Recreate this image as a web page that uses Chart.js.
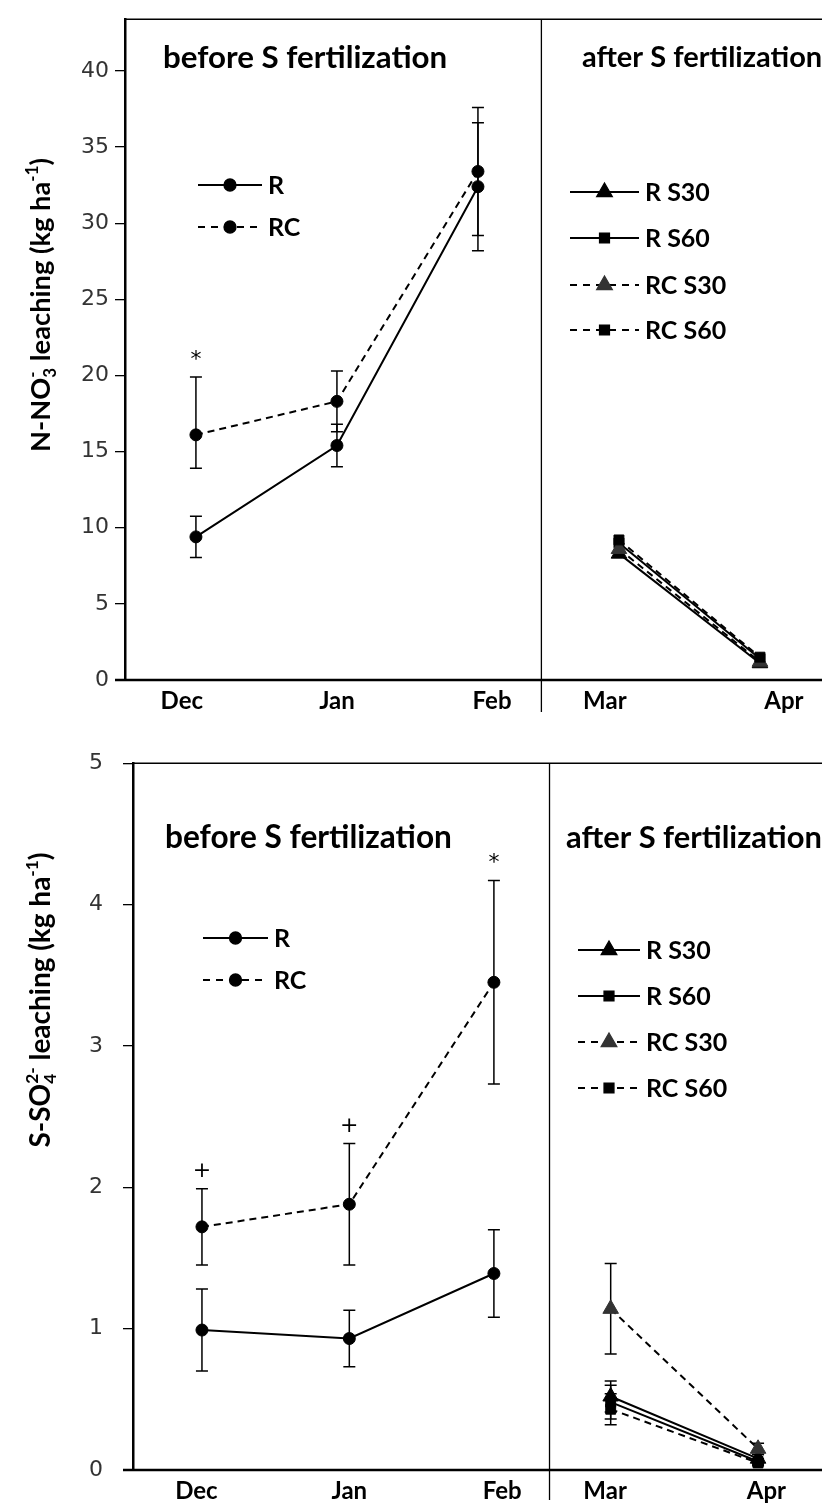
<!DOCTYPE html>
<html>
<head>
<meta charset="utf-8">
<script src="https://cdn.jsdelivr.net/npm/chart.js@4.4.1/dist/chart.umd.min.js"></script>
<style>
  html, body { margin: 0; padding: 0; background: #fff; }
  #wrap { position: relative; width: 832px; height: 1504px; }
  canvas { position: absolute; left: 0; }
  #c1 { top: 0; }
  #c2 { top: 730px; }
</style>
</head>
<body>
<div id="wrap">
  <canvas id="c1" width="832" height="730"></canvas>
  <canvas id="c2" width="832" height="774"></canvas>
</div>
<script>
/* ---- data ---- */
const months = ['Dec', 'Jan', 'Feb', 'Mar', 'Apr'];

// N-NO3- leaching (kg ha-1); error bars given as [below, above]
const nR = [9.4, 15.4, 32.4];
const nRErr = [[1.35, 1.35], [1.4, 1.4], [4.2, 4.2]];
const nRC = [16.1, 18.3, 33.4];
const nRCErr = [[2.2, 3.8], [2.0, 2.0], [4.2, 4.2]];
const nRS30 = [8.3, 1.1];
const nRS60 = [9.0, 1.4];
const nRCS30 = [8.6, 1.2];
const nRCS60 = [9.2, 1.5];
const nTicks = [0, 5, 10, 15, 20, 25, 30, 35, 40];

// S-SO4 2- leaching (kg ha-1)
const sR = [0.99, 0.93, 1.39];
const sRErr = [0.29, 0.20, 0.31];
const sRC = [1.72, 1.88, 3.45];
const sRCErr = [0.27, 0.43, 0.72];
const sRS30 = [0.52, 0.08];
const sRS30Err = [0.11, 0.03];
const sRS60 = [0.48, 0.06];
const sRS60Err = [0.12, 0.02];
const sRCS30 = [1.14, 0.15];
const sRCS30Err = [0.32, 0.04];
const sRCS60 = [0.43, 0.05];
const sRCS60Err = [0.11, 0.02];
const sTicks = [0, 1, 2, 3, 4, 5];

// month positions along x (months are not quite evenly spaced in the figure)
const nPos = [1, 2, 3, 4, 5];
const nLabelPos = [0.9, 2.0, 3.1, 3.9, 5.17];
const sPos = [1, 2.06, 3.1, 3.94, 5];
const sLabelPos = [0.96, 2.06, 3.16, 3.9, 5.06];

// significance marks: [series, month index, symbol]
const nMarks = [['RC', 0, '*']];
const sMarks = [['RC', 0, '+'], ['RC', 1, '+'], ['RC', 2, '*']];

/* ---- helpers ---- */
const FONT = 'Lato';
const pts = (pos, vals) => vals.map((v, i) => ({ x: pos[i], y: v }));
const errRange = e => Array.isArray(e) ? e : [e, e];

function fitFont(ctx, text, width, weight) {
  ctx.font = `${weight} 20px ${FONT}`;
  const w = ctx.measureText(text).width;
  return `${weight} ${(20 * width / w).toFixed(1)}px ${FONT}`;
}

function drawMarker(ctx, style, color, r, x, y) {
  ctx.save();
  ctx.fillStyle = color;
  ctx.strokeStyle = color;
  Chart.helpers.drawPoint(ctx, { pointStyle: style, radius: r, rotation: 0, borderWidth: 1 }, x, y);
  ctx.restore();
}

// rotated y title with sub/superscripts, parts: strings or {sub, sup}
function drawYTitle(ctx, parts, cx, cy, length) {
  const plain = parts.map(p => typeof p === 'string' ? p : (p.sub || p.sup)).join('');
  let size = 20;
  ctx.font = `bold ${size}px ${FONT}`;
  size = size * length / ctx.measureText(plain).width;
  const big = `bold ${size}px ${FONT}`;
  const small = `bold ${size * 0.62}px ${FONT}`;
  const widthOf = p => {
    if (typeof p === 'string') { ctx.font = big; return ctx.measureText(p).width; }
    ctx.font = small;
    return Math.max(p.sub ? ctx.measureText(p.sub).width : 0, p.sup ? ctx.measureText(p.sup).width : 0);
  };
  const total = parts.reduce((s, p) => s + widthOf(p), 0);
  ctx.save();
  ctx.translate(cx, cy);
  ctx.rotate(-Math.PI / 2);
  ctx.fillStyle = '#000';
  ctx.textBaseline = 'alphabetic';
  ctx.textAlign = 'left';
  let x = -total / 2;
  const base = size * 0.35;
  parts.forEach(p => {
    const w = widthOf(p);
    if (typeof p === 'string') {
      ctx.font = big; ctx.fillText(p, x, base);
    } else {
      ctx.font = small;
      if (p.sub) ctx.fillText(p.sub, x, base + size * 0.22);
      if (p.sup) ctx.fillText(p.sup, x, base - size * 0.42);
    }
    x += w;
  });
  ctx.restore();
}

const decor = {
  id: 'decor',
  beforeDatasetsDraw(chart) {
    const { ctx, scales: { x, y } } = chart;
    ctx.save();
    ctx.strokeStyle = '#000';
    ctx.lineWidth = 1.5;
    chart.data.datasets.forEach(ds => {
      if (!ds.errs) return;
      ds.data.forEach((p, i) => {
        if (!ds.errs[i]) return;
        const [lo, hi] = errRange(ds.errs[i]);
        const px = x.getPixelForValue(p.x);
        const y1 = y.getPixelForValue(p.y + hi);
        const y2 = y.getPixelForValue(Math.max(0, p.y - lo));
        ctx.beginPath();
        ctx.moveTo(px, y1); ctx.lineTo(px, y2);
        ctx.moveTo(px - 6, y1); ctx.lineTo(px + 6, y1);
        ctx.moveTo(px - 6, y2); ctx.lineTo(px + 6, y2);
        ctx.stroke();
      });
    });
    ctx.restore();
  },
  afterDraw(chart, args, o) {
    const { ctx, chartArea: a, scales: { x, y } } = chart;
    ctx.save();
    ctx.strokeStyle = '#000';
    ctx.fillStyle = '#000';

    // frame top, x axis, divider
    ctx.lineWidth = 1.5;
    ctx.beginPath();
    ctx.moveTo(a.left, a.top); ctx.lineTo(a.right, a.top);
    ctx.stroke();
    ctx.lineWidth = 2.5;
    ctx.beginPath();
    ctx.moveTo(a.left - 10, a.bottom); ctx.lineTo(a.right, a.bottom);
    ctx.stroke();
    const dx = x.getPixelForValue(o.divider);
    ctx.lineWidth = 1.3;
    ctx.beginPath();
    ctx.moveTo(dx, a.top); ctx.lineTo(dx, a.bottom + o.dividerTail);
    ctx.stroke();

    // month labels
    ctx.font = `bold 24px ${FONT}`;
    ctx.textAlign = 'center';
    ctx.textBaseline = 'middle';
    months.forEach((m, i) => ctx.fillText(m, x.getPixelForValue(o.labelPos[i]), a.bottom + 21));

    // section titles
    ctx.textAlign = 'left';
    o.titles.forEach(t => {
      ctx.font = fitFont(ctx, t.text, t.w, 'bold');
      ctx.fillText(t.text, t.x, t.y);
    });

    // legends
    o.legend.forEach(l => {
      ctx.save();
      ctx.lineWidth = 2;
      ctx.setLineDash(l.dash ? [7, 6] : []);
      ctx.beginPath();
      ctx.moveTo(l.x1, l.y); ctx.lineTo(l.x2, l.y);
      ctx.stroke();
      ctx.restore();
      drawMarker(ctx, l.style, l.color, l.r, (l.x1 + l.x2) / 2, l.y);
      ctx.font = `bold 25px ${FONT}`;
      ctx.fillText(l.text, l.x2 + 6, l.y + 1);
    });

    // significance marks above the upper error cap
    ctx.font = '22px DejaVu Sans';
    ctx.textAlign = 'center';
    o.marks.forEach(([lab, i, sym]) => {
      const ds = chart.data.datasets.find(d => d.label === lab);
      const p = ds.data[i];
      const hi = errRange(ds.errs[i])[1];
      ctx.fillText(sym, x.getPixelForValue(p.x), y.getPixelForValue(p.y + hi) - 17);
    });

    drawYTitle(ctx, o.yTitle, o.yTitleX, o.yTitleY, o.yTitleLen);
    ctx.restore();
  }
};

function lineDs(label, data, errs, style, r, dashed, color) {
  return {
    label, data, errs,
    borderColor: '#000',
    borderWidth: 2,
    borderDash: dashed ? [7, 5] : [],
    pointStyle: style,
    pointRadius: r,
    pointBackgroundColor: color || '#000',
    pointBorderColor: color || '#000',
    pointBorderWidth: 1,
    tension: 0,
    fill: false
  };
}

function makeChart(id, cfg) {
  return new Chart(document.getElementById(id), {
    type: 'line',
    data: { datasets: cfg.datasets },
    options: {
      responsive: false,
      animation: false,
      events: [],
      layout: { padding: { top: cfg.top, bottom: cfg.bottom, left: 0, right: 0 } },
      plugins: { legend: { display: false }, tooltip: { enabled: false }, decor: cfg.decor },
      scales: {
        x: { type: 'linear', display: false, min: cfg.xMin, max: cfg.xMax },
        y: {
          min: 0, max: cfg.yMax,
          afterBuildTicks: s => { s.ticks = cfg.ticks.map(v => ({ value: v })); },
          afterFit: s => { s.width = cfg.axisX; },
          border: { display: true, color: '#000', width: 2.5 },
          grid: { drawOnChartArea: false, drawTicks: true, tickLength: 10, color: '#000', lineWidth: 1.3 },
          ticks: {
            padding: cfg.tickPad,
            color: '#333',
            font: { family: 'DejaVu Sans', size: 22 }
          }
        }
      }
    },
    plugins: [decor]
  });
}

/* ---- chart 1: N-NO3 ---- */
const tri = 'triangle', sq = 'rect', dot = 'circle';
makeChart('c1', {
  top: 15, bottom: 50, axisX: 125, tickPad: 6,
  xMin: 0.497, xMax: 5.44, yMax: 43.4, ticks: nTicks,
  datasets: [
    lineDs('R', pts(nPos, nR), nRErr, dot, 6, false),
    lineDs('RC', pts(nPos, nRC), nRCErr, dot, 6, true),
    lineDs('RC S60', pts(nPos.slice(3), nRCS60), null, sq, 7, true),
    lineDs('RC S30', pts(nPos.slice(3), nRCS30), null, tri, 9, true, '#333'),
    lineDs('R S60', pts(nPos.slice(3), nRS60), null, sq, 7, false),
    lineDs('R S30', pts(nPos.slice(3), nRS30), null, tri, 9, false)
  ],
  decor: {
    divider: 3.45, dividerTail: 32, labelPos: nLabelPos, marks: nMarks,
    titles: [
      { text: 'before S fertilization', x: 163, y: 58, w: 284 },
      { text: 'after S fertilization', x: 582, y: 58, w: 240 }
    ],
    legend: [
      { text: 'R', x1: 198, x2: 262, y: 185, style: dot, r: 6 },
      { text: 'RC', x1: 198, x2: 262, y: 227, style: dot, r: 6, dash: true },
      { text: 'R S30', x1: 570, x2: 639, y: 192, style: tri, r: 9 },
      { text: 'R S60', x1: 570, x2: 639, y: 238, style: sq, r: 7 },
      { text: 'RC S30', x1: 570, x2: 639, y: 285, style: tri, r: 9, dash: true, color: '#333' },
      { text: 'RC S60', x1: 570, x2: 639, y: 330, style: sq, r: 7, dash: true }
    ].map(l => Object.assign({ color: '#000' }, l)),
    yTitle: ['N-NO', { sub: '3', sup: '-' }, ' leaching (kg ha', { sup: '-1' }, ')'],
    yTitleX: 40, yTitleY: 305, yTitleLen: 310
  }
});

/* ---- chart 2: S-SO4 ---- */
makeChart('c2', {
  top: 20, bottom: 34, axisX: 133, tickPad: 20,
  xMin: 0.504, xMax: 5.46, yMax: 5, ticks: sTicks,
  datasets: [
    lineDs('R', pts(sPos, sR), sRErr, dot, 6, false),
    lineDs('RC', pts(sPos, sRC), sRCErr, dot, 6, true),
    lineDs('RC S60', pts(sPos.slice(3), sRCS60), sRCS60Err, sq, 7, true),
    lineDs('RC S30', pts(sPos.slice(3), sRCS30), sRCS30Err, tri, 9, true, '#333'),
    lineDs('R S60', pts(sPos.slice(3), sRS60), sRS60Err, sq, 7, false),
    lineDs('R S30', pts(sPos.slice(3), sRS30), sRS30Err, tri, 9, false)
  ],
  decor: {
    divider: 3.5, dividerTail: 30, labelPos: sLabelPos, marks: sMarks,
    titles: [
      { text: 'before S fertilization', x: 165, y: 108, w: 287 },
      { text: 'after S fertilization', x: 566, y: 108, w: 256 }
    ],
    legend: [
      { text: 'R', x1: 203, x2: 268, y: 208, style: dot, r: 6 },
      { text: 'RC', x1: 203, x2: 268, y: 250, style: dot, r: 6, dash: true },
      { text: 'R S30', x1: 578, x2: 640, y: 220, style: tri, r: 9 },
      { text: 'R S60', x1: 578, x2: 640, y: 266, style: sq, r: 7 },
      { text: 'RC S30', x1: 578, x2: 640, y: 312, style: tri, r: 9, dash: true, color: '#333' },
      { text: 'RC S60', x1: 578, x2: 640, y: 358, style: sq, r: 7, dash: true }
    ].map(l => Object.assign({ color: '#000' }, l)),
    yTitle: ['S-SO', { sub: '4', sup: '2-' }, ' leaching (kg ha', { sup: '-1' }, ')'],
    yTitleX: 40, yTitleY: 270, yTitleLen: 305
  }
});
</script>
</body>
</html>
